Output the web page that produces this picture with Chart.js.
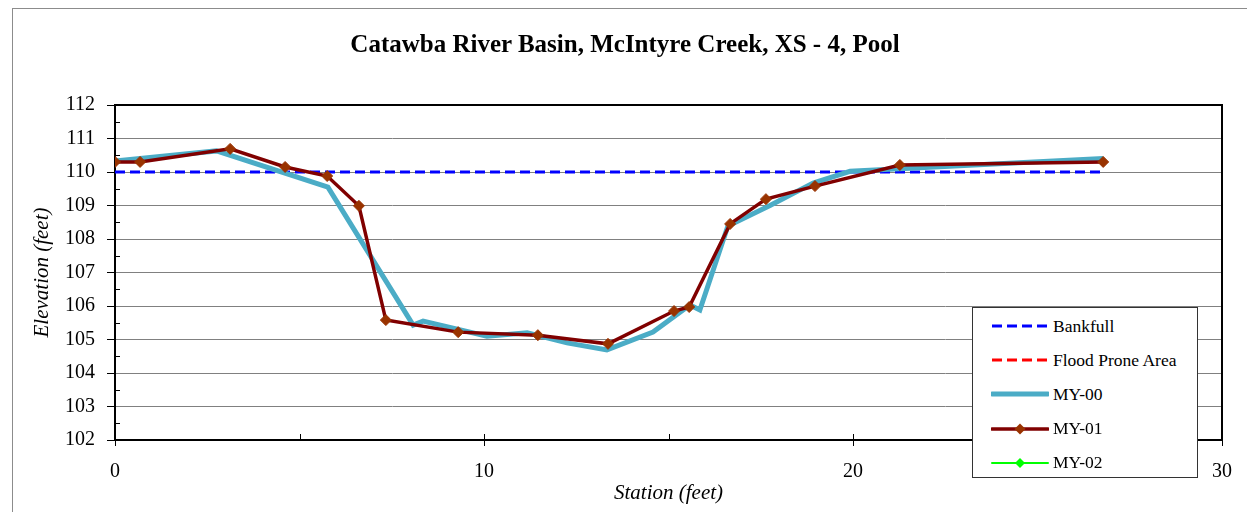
<!DOCTYPE html>
<html>
<head>
<meta charset="utf-8" />
<title>Catawba River Basin, McIntyre Creek, XS - 4, Pool</title>
<script src="https://cdn.jsdelivr.net/npm/chart.js"></script>
<style>
  body { margin:0; padding:0; background:#fff; overflow:hidden; }
  #wrap { position:relative; width:1247px; height:512px; overflow:hidden; }
  #frame { position:absolute; left:12px; top:8px; width:1300px; height:600px; border:1px solid #8c8c8c; }
  #chart { position:absolute; left:0; top:0; }
  #title {
    position:absolute; left:0; width:1250px; top:30px; line-height:30px;
    text-align:center; font:bold 25px "Liberation Serif", "Times New Roman", serif; color:#000;
  }
  #legend {
    position:absolute; left:972px; top:307px; width:224px; height:169px;
    background:#fff; border:1px solid #333;
    font:17.5px "Liberation Serif", "Times New Roman", serif; color:#000;
  }
  .row { position:absolute; left:0; height:34px; display:flex; align-items:center; }
  .row svg { margin-left:18px; margin-right:4px; }
</style>
</head>
<body>
<div id="wrap">
  <div id="frame"></div>
  <canvas id="chart" width="1247" height="512"></canvas>
  <div id="title">Catawba River Basin, McIntyre Creek, XS - 4, Pool</div>
  <div id="legend"></div>
</div>
<script>
// survey data
const bankfullStation = [0, 26.78];
const bankfullElev = [110, 110];

const my00Station = [0, 2.75, 5.77, 8.08, 8.35, 10.08, 11.17, 12.25, 13.33, 14.58, 15.58, 15.85, 16.61, 17.75, 18.92, 19.92, 26.78];
const my00Elev    = [110.33, 110.63, 109.55, 105.43, 105.55, 105.1, 105.2, 104.9, 104.69, 105.22, 106.03, 105.88, 108.39, 109.0, 109.67, 110.02, 110.4];

const my01Station = [0, 0.68, 3.12, 4.61, 5.75, 6.61, 7.34, 9.30, 11.46, 13.36, 15.15, 15.56, 16.67, 17.64, 18.97, 21.27, 26.78];
const my01Elev    = [110.30, 110.30, 110.69, 110.15, 109.88, 108.99, 105.58, 105.22, 105.13, 104.87, 105.85, 105.97, 108.45, 109.19, 109.58, 110.21, 110.30];

const floodStation = [];
const floodElev = [];
const my02Station = [];
const my02Elev = [];

const xMin = 0, xMax = 30, xStep = 10;
const yMin = 102, yMax = 112, yStep = 1;

function pts(xs, ys) { return xs.map((x, i) => ({ x: x, y: ys[i] })); }

const serif = '"Liberation Serif", "Times New Roman", serif';

const datasets = [
  { label: 'Bankfull', data: pts(bankfullStation, bankfullElev), borderColor: '#0000ff', borderWidth: 3,
    borderDash: [10, 5], pointRadius: 0, order: 5 },
  { label: 'Flood Prone Area', data: pts(floodStation, floodElev), borderColor: '#ff0000', borderWidth: 3,
    borderDash: [10, 5], pointRadius: 0, order: 4 },
  { label: 'MY-00', data: pts(my00Station, my00Elev), borderColor: '#4bacc6', borderWidth: 5,
    pointRadius: 0, order: 3 },
  { label: 'MY-01', data: pts(my01Station, my01Elev), borderColor: '#800000', borderWidth: 3.5,
    pointStyle: 'rectRot', pointRadius: 5.5, pointBackgroundColor: '#993300', pointBorderColor: '#993300',
    pointBorderWidth: 1, order: 2 },
  { label: 'MY-02', data: pts(my02Station, my02Elev), borderColor: '#00ff00', borderWidth: 2,
    pointStyle: 'rectRot', pointRadius: 5, pointBackgroundColor: '#00ff00', pointBorderColor: '#00ff00', order: 1 }
];

// black frame on top/right of plot + minor tick marks
const framePlugin = {
  id: 'framePlugin',
  afterDraw(chart) {
    const { ctx, chartArea: a, scales } = chart;
    ctx.save();
    ctx.strokeStyle = '#000';
    ctx.lineWidth = 2;
    ctx.beginPath();
    ctx.moveTo(a.left, a.top); ctx.lineTo(a.right, a.top); ctx.lineTo(a.right, a.bottom);
    ctx.stroke();
    ctx.lineWidth = 1;
    ctx.beginPath();
    for (let v = yMin + yStep / 2; v < yMax; v += yStep) {
      const y = Math.round(scales.y.getPixelForValue(v)) + 0.5;
      ctx.moveTo(a.left, y); ctx.lineTo(a.left + 5, y);
    }
    for (let v = xMin; v <= xMax; v += xStep / 2) {
      const x = Math.round(scales.x.getPixelForValue(v)) + 0.5;
      if (v % xStep === 0) { ctx.moveTo(x, a.bottom - 6); ctx.lineTo(x, a.bottom + 6); }
      else { ctx.moveTo(x, a.bottom - 6); ctx.lineTo(x, a.bottom); }
    }
    ctx.stroke();
    ctx.restore();
  }
};

const chart = new Chart(document.getElementById('chart'), {
  type: 'scatter',
  data: { datasets: datasets.map(d => Object.assign({ showLine: true, tension: 0, fill: false }, d)) },
  options: {
    responsive: false,
    animation: false,
    layout: { padding: { top: 105, right: 25, left: 0, bottom: 0 } },
    plugins: { legend: { display: false }, title: { display: false }, tooltip: { enabled: false } },
    scales: {
      x: {
        type: 'linear', min: xMin, max: xMax,
        ticks: { stepSize: xStep, color: '#000', font: { family: serif, size: 20 }, padding: 20 },
        grid: { display: false, drawTicks: false },
        border: { display: true, color: '#000', width: 2 },
        title: { display: true, text: 'Station (feet)', color: '#000',
                 font: { family: serif, size: 21, style: 'italic' }, padding: { top: 0, bottom: 6 } },
        afterFit(s) { s.height = 72; s.paddingLeft = 0; s.paddingRight = 0; }
      },
      y: {
        type: 'linear', min: yMin, max: yMax,
        ticks: { stepSize: yStep, color: '#000', font: { family: serif, size: 20 }, padding: 12 },
        grid: { color: '#808080', lineWidth: 1, tickColor: '#000', tickLength: 8 },
        border: { display: true, color: '#000', width: 2 },
        title: { display: true, text: 'Elevation (feet)', color: '#000',
                 font: { family: serif, size: 21, style: 'italic' }, padding: { top: 30, bottom: 0 } },
        afterFit(s) { s.width = 115; s.paddingTop = 0; s.paddingBottom = 0; }
      }
    }
  },
  plugins: [framePlugin]
});

// legend box drawn as html, from the dataset styles
const legend = document.getElementById('legend');
chart.data.datasets.forEach((d, i) => {
  const row = document.createElement('div');
  row.className = 'row';
  row.style.top = (1 + i * 34.2) + 'px';
  const dash = d.borderDash ? `stroke-dasharray="${d.borderDash.join(',')}"` : '';
  const cap = d.borderDash ? 'butt' : 'round';
  let marker = '';
  if (d.pointRadius > 0) {
    const r = d.pointRadius;
    marker = `<polygon points="29,${7 - r} ${29 + r},7 29,${7 + r} ${29 - r},7" fill="${d.pointBackgroundColor}"/>`;
  }
  row.innerHTML = `<svg width="58" height="14"><line x1="1" y1="7" x2="57" y2="7" stroke="${d.borderColor}"
    stroke-width="${d.borderWidth}" stroke-linecap="${cap}" ${dash}/>${marker}</svg><span>${d.label}</span>`;
  legend.appendChild(row);
});
</script>
</body>
</html>
